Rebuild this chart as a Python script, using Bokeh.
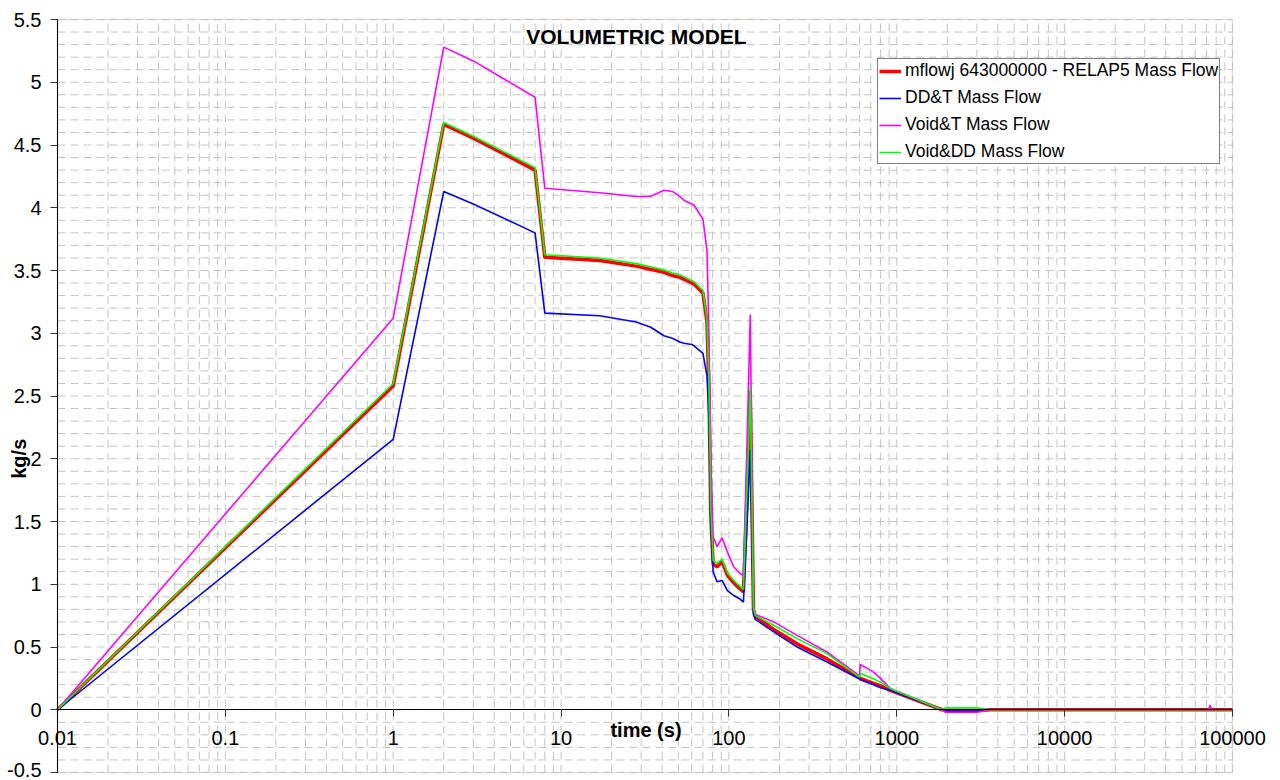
from bokeh.plotting import figure
from bokeh.models import (FixedTicker, SingleIntervalTicker, CustomJSTickFormatter,
                          Label, Legend, LegendItem, Range1d, BoxAnnotation)
from bokeh.embed import file_html
from bokeh.resources import INLINE
import math

# ---------------- data ----------------
time_s = [0.01, 1, 2, 3, 7, 8, 17, 28, 34, 41, 46, 51, 54, 60, 62, 70, 74, 76, 78, 80.5,
          85, 91, 98, 107, 117, 122, 128, 134, 140, 143.6, 185, 255, 384, 600, 606, 728,
          800, 914, 1860, 1950, 3000, 3600, 10000, 50000, 72000, 73600, 75000, 100000]

relap5 = [0, 2.58, 4.665, 4.555, 4.30, 3.605, 3.58, 3.535, 3.51, 3.485, 3.46, 3.445, 3.43,
          3.40, 3.39, 3.32, 3.09, 2.55, 1.55, 1.16, 1.14, 1.18, 1.07, 1.01, 0.96, 0.94, 1.70,
          2.54, 0.80, 0.745, 0.64, 0.525, 0.405, 0.255, 0.25, 0.21, 0.19, 0.155, 0, -0.005,
          -0.005, 0, 0, 0, 0, 0, 0, 0]

dd_t = [0, 2.155, 4.13, 4.03, 3.80, 3.16, 3.14, 3.09, 3.05, 2.98, 2.96, 2.93, 2.92, 2.91,
        2.90, 2.84, 2.66, 2.35, 1.50, 1.10, 1.02, 1.03, 0.95, 0.91, 0.88, 0.858, 1.45, 2.07,
        0.76, 0.72, 0.62, 0.50, 0.38, 0.245, 0.24, 0.20, 0.175, 0.155, 0, -0.01, -0.01, 0,
        0, 0, 0, 0, 0, 0]

void_t = [0, 3.12, 5.28, 5.17, 4.88, 4.155, 4.12, 4.09, 4.09, 4.14, 4.13, 4.09, 4.06, 4.03,
          4.02, 3.91, 3.66, 3.0, 2.0, 1.38, 1.30, 1.37, 1.256, 1.137, 1.084, 1.07, 2.1, 3.15,
          0.80, 0.76, 0.70, 0.593, 0.46, 0.27, 0.36, 0.30, 0.25, 0.17, 0, -0.02, -0.02, 0,
          0, 0, 0, 0.035, 0, 0]

void_dd = [0, 2.60, 4.68, 4.57, 4.32, 3.625, 3.60, 3.555, 3.53, 3.505, 3.48, 3.465, 3.45,
           3.42, 3.41, 3.34, 3.11, 2.60, 1.60, 1.19, 1.165, 1.20, 1.09, 1.03, 0.98, 0.96,
           1.75, 2.57, 0.82, 0.75, 0.673, 0.567, 0.447, 0.26, 0.29, 0.245, 0.22, 0.17, 0,
           0.015, 0.015, 0, 0, 0, 0, 0, 0, 0]

series_names = ["mflowj 643000000 - RELAP5 Mass Flow", "DD&T Mass Flow",
                "Void&T Mass Flow", "Void&DD Mass Flow"]

x_decades = [0.01, 0.1, 1, 10, 100, 1000, 10000, 100000]
x_labels = ["0.01", "0.1", "1", "10", "100", "1000", "10000", "100000"]
y_min, y_max, y_step, y_minor_step = -0.5, 5.5, 0.5, 0.1
y_bottom_label = "-0.5"

FONT = "Liberation Sans"

# ---------------- layout of the canvas ----------------
W, H = 1272, 780
area_left, area_right, area_top, area_bottom = 57, 1232, 19, 772   # plot-area box in px
lx0, lx1 = math.log10(x_decades[0]), math.log10(x_decades[-1])
dec_px = (area_right - area_left) / (lx1 - lx0)
unit_px = (area_bottom - area_top) / (y_max - y_min)
x_start = 10 ** (lx0 - area_left / dec_px)
x_end = 10 ** (lx1 + (W - area_right) / dec_px)
y_top = y_max + area_top / unit_px
y_bot = y_min - (H - area_bottom) / unit_px

p = figure(width=W, height=H, title=None,
           x_axis_type="log", x_range=Range1d(x_start, x_end), y_range=Range1d(y_bot, y_top),
           output_backend="svg", toolbar_location=None,
           min_border_left=0, min_border_right=0, min_border_top=0, min_border_bottom=0)
p.background_fill_color = "white"
p.border_fill_color = "white"
p.outline_line_color = None
p.xgrid.visible = False
p.ygrid.visible = False

# ---------------- grid (dashed, major + minor) ----------------
x_minor = [m * d for d in x_decades[:-1] for m in range(2, 10)]
grid_x = x_decades + x_minor
n_y = int(round((y_max - y_min) / y_minor_step))
grid_y = [round(y_min + k * y_minor_step, 6) for k in range(n_y + 1)]
p.segment(x0=grid_x, y0=[y_min] * len(grid_x), x1=grid_x, y1=[y_max] * len(grid_x),
          line_color="#c4c4c4", line_width=1, line_dash="8 5")
p.segment(x0=[x_decades[0]] * len(grid_y), y0=grid_y, x1=[x_decades[-1]] * len(grid_y), y1=grid_y,
          line_color="#c4c4c4", line_width=1, line_dash="8 5")

# plot-area border
p.add_layout(BoxAnnotation(left=x_decades[0], right=x_decades[-1], bottom=y_min, top=y_max,
                           fill_alpha=0, line_color="#9a9a9a", line_width=1.5, level="underlay"))

# ---------------- axes ----------------
x_ticker = FixedTicker(ticks=x_decades, minor_ticks=[])
y_ticker = SingleIntervalTicker(interval=y_step, num_minor_ticks=0)

xa = p.xaxis[0]
xa.ticker = x_ticker
xa.fixed_location = 0
xa.bounds = (x_decades[0], x_decades[-1])
xa.formatter = CustomJSTickFormatter(args=dict(vals=x_decades, names=x_labels), code="""
    const i = vals.findIndex(v => Math.abs(v - tick) <= 1e-9 * Math.abs(v));
    return i >= 0 ? names[i] : '';
""")
xa.major_label_standoff = 14

ya = p.yaxis[0]
ya.ticker = y_ticker
ya.fixed_location = x_decades[0]
ya.bounds = (y_min, y_max)
# the lowest label sits at the picture's edge: it is drawn separately, a little higher
ya.formatter = CustomJSTickFormatter(args=dict(lo=y_min), code="""
    if (Math.abs(tick - lo) < 1e-9) return '';
    return String(Math.round(tick * 10) / 10);
""")
ya.major_label_standoff = 9

for ax in (xa, ya):
    ax.axis_line_color = "black"
    ax.axis_line_width = 1
    ax.major_tick_out = 7
    ax.major_tick_in = 0
    ax.major_tick_line_color = "#333333"
    ax.minor_tick_out = 0
    ax.minor_tick_in = 0
    ax.major_label_text_font = FONT
    ax.major_label_text_font_size = "20px"
    ax.major_label_text_color = "black"

p.add_layout(Label(x=x_decades[0], y=y_min, x_offset=-16, y_offset=3, text=y_bottom_label,
                   text_align="right", text_baseline="middle", text_font=FONT,
                   text_font_size="20px", text_color="black"))

# ---------------- series ----------------
r_red = p.line(time_s, relap5, line_color="#ff0000", line_width=3.5)
r_blue = p.line(time_s, dd_t, line_color="#0000ff", line_width=1.6)
r_mag = p.line(time_s, void_t, line_color="#ff00ff", line_width=1.6)
r_green = p.line(time_s, void_dd, line_color="#00ff00", line_width=1.6)

legend = Legend(items=[LegendItem(label=series_names[0], renderers=[r_red]),
                       LegendItem(label=series_names[1], renderers=[r_blue]),
                       LegendItem(label=series_names[2], renderers=[r_mag]),
                       LegendItem(label=series_names[3], renderers=[r_green])],
                location=(877, H - 164))
legend.margin = 0
legend.padding = 1
legend.spacing = 6
legend.glyph_width = 22
legend.glyph_height = 20
legend.label_height = 20
legend.label_standoff = 4
legend.label_text_font = FONT
legend.label_text_font_size = "17.5px"
legend.label_text_color = "black"
legend.border_line_color = "black"
legend.border_line_width = 1
legend.background_fill_color = "white"
legend.background_fill_alpha = 1
p.add_layout(legend)

# ---------------- texts ----------------
x_mid = 10 ** ((lx0 + lx1) / 2)
p.add_layout(Label(x=x_mid, y=y_max, x_offset=-8.6, y_offset=-17, text="VOLUMETRIC MODEL",
                   text_align="center", text_baseline="middle", text_font=FONT,
                   text_font_size="21px", text_font_style="bold", text_color="black"))
p.add_layout(Label(x=x_mid, y=0, x_offset=1, y_offset=-20.5, text="time (s)",
                   text_align="center", text_baseline="middle", text_font=FONT,
                   text_font_size="20px", text_font_style="bold", text_color="black"))
p.add_layout(Label(x=x_decades[0], y=2.0, x_offset=-39, text="kg/s", angle=90, angle_units="deg",
                   text_align="center", text_baseline="middle", text_font=FONT,
                   text_font_size="20px", text_font_style="bold", text_color="black"))

open("out.html", "w").write(file_html(p, INLINE))
